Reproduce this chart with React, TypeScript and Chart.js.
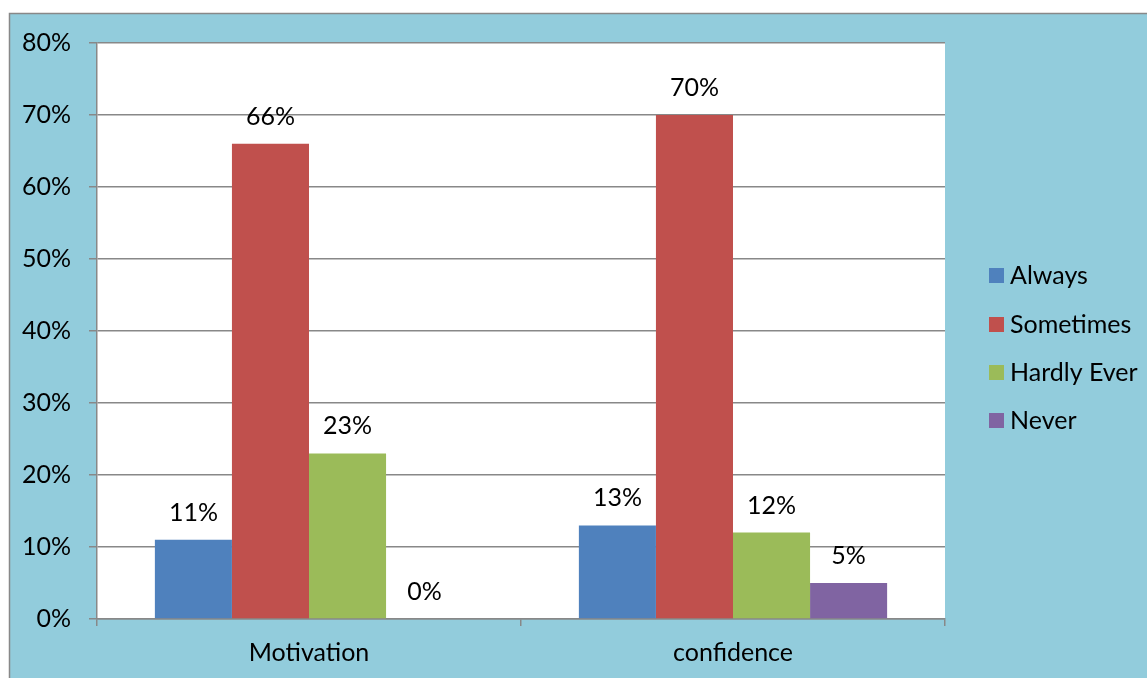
import React, { useEffect, useRef } from "react";
import { Chart, registerables } from "chart.js";

Chart.register(...registerables);

const categories = ["Motivation", "confidence"];
const seriesNames = ["Always", "Sometimes", "Hardly Ever", "Never"];
const always = [11, 13];
const sometimes = [66, 70];
const hardlyEver = [23, 12];
const never = [0, 5];
const yTicks = [0, 10, 20, 30, 40, 50, 60, 70, 80];

const colors = ["#4F81BD", "#C0504D", "#9BBB59", "#8064A2"];
const FONT = "Lato";
const FS = 25;

const bgPlugin = {
  id: "bg",
  beforeDraw(chart: any) {
    const { ctx, chartArea } = chart;
    ctx.save();
    ctx.fillStyle = "#92CCDC";
    ctx.fillRect(9, 13, 1147, 678);
    ctx.strokeStyle = "#888888";
    ctx.lineWidth = 1.5;
    ctx.beginPath();
    ctx.moveTo(9.5, 680);
    ctx.lineTo(9.5, 13.5);
    ctx.lineTo(1150, 13.5);
    ctx.stroke();
    ctx.fillStyle = "#FFFFFF";
    ctx.fillRect(chartArea.left, chartArea.top, chartArea.right - chartArea.left, chartArea.bottom - chartArea.top);
    ctx.restore();
  },
};

const labelPlugin = {
  id: "labels",
  afterDatasetsDraw(chart: any) {
    const { ctx } = chart;
    ctx.save();
    ctx.font = `${FS}px ${FONT}`;
    ctx.fillStyle = "#000";
    ctx.textAlign = "center";
    ctx.textBaseline = "middle";
    chart.data.datasets.forEach((ds: any, i: number) => {
      const meta = chart.getDatasetMeta(i);
      meta.data.forEach((bar: any, j: number) => {
        ctx.fillText(ds.data[j] + "%", bar.x, bar.y - 27);
      });
    });
    // legend
    const rows = [275, 324, 372, 420];
    chart.data.datasets.forEach((ds: any, i: number) => {
      const y = rows[i];
      ctx.fillStyle = ds.backgroundColor;
      ctx.fillRect(989, y - 7, 15, 15);
      ctx.fillStyle = "#000";
      ctx.textAlign = "left";
      ctx.fillText(ds.label, 1010, y + 1);
    });
    ctx.restore();
  },
};

export default function App() {
  const ref = useRef<HTMLCanvasElement>(null);
  useEffect(() => {
    if (!ref.current) return;
    const data = [always, sometimes, hardlyEver, never];
    const chart = new Chart(ref.current, {
      type: "bar",
      data: {
        labels: categories,
        datasets: seriesNames.map((n, i) => ({
          label: n,
          data: data[i],
          backgroundColor: colors[i],
          borderWidth: 0,
          categoryPercentage: 0.727,
          barPercentage: 1,
        })),
      },
      plugins: [bgPlugin, labelPlugin],
      options: {
        responsive: false,
        animation: false,
        devicePixelRatio: 1,
        layout: { padding: { top: 43, right: 202, left: 0, bottom: 0 } },
        plugins: { legend: { display: false }, tooltip: { enabled: false } },
        scales: {
          x: {
            grid: { offset: true, drawOnChartArea: false, tickLength: 7, color: "#888888", lineWidth: 1.5 },
            border: { color: "#888888", width: 1.5 },
            ticks: { color: "#000", font: { family: FONT, size: FS }, padding: 12 },
            afterFit: (s: any) => { s.height = 59; },
          },
          y: {
            min: 0,
            max: 80,
            afterBuildTicks: (s: any) => { s.ticks = yTicks.map((v) => ({ value: v })); },
            grid: { color: "#888888", lineWidth: 1.5, tickLength: 8 },
            border: { color: "#888888", width: 1.5 },
            ticks: { color: "#000", font: { family: FONT, size: FS }, padding: 18, callback: (v: any) => v + "%" },
            afterFit: (s: any) => { s.width = 97; },
          },
        },
      },
    });
    return () => chart.destroy();
  }, []);
  return (
    <div style={{ position: "absolute", left: 0, top: 0, width: 1147, height: 678 }}>
      <canvas ref={ref} width={1147} height={678} style={{ display: "block" }} />
    </div>
  );
}
